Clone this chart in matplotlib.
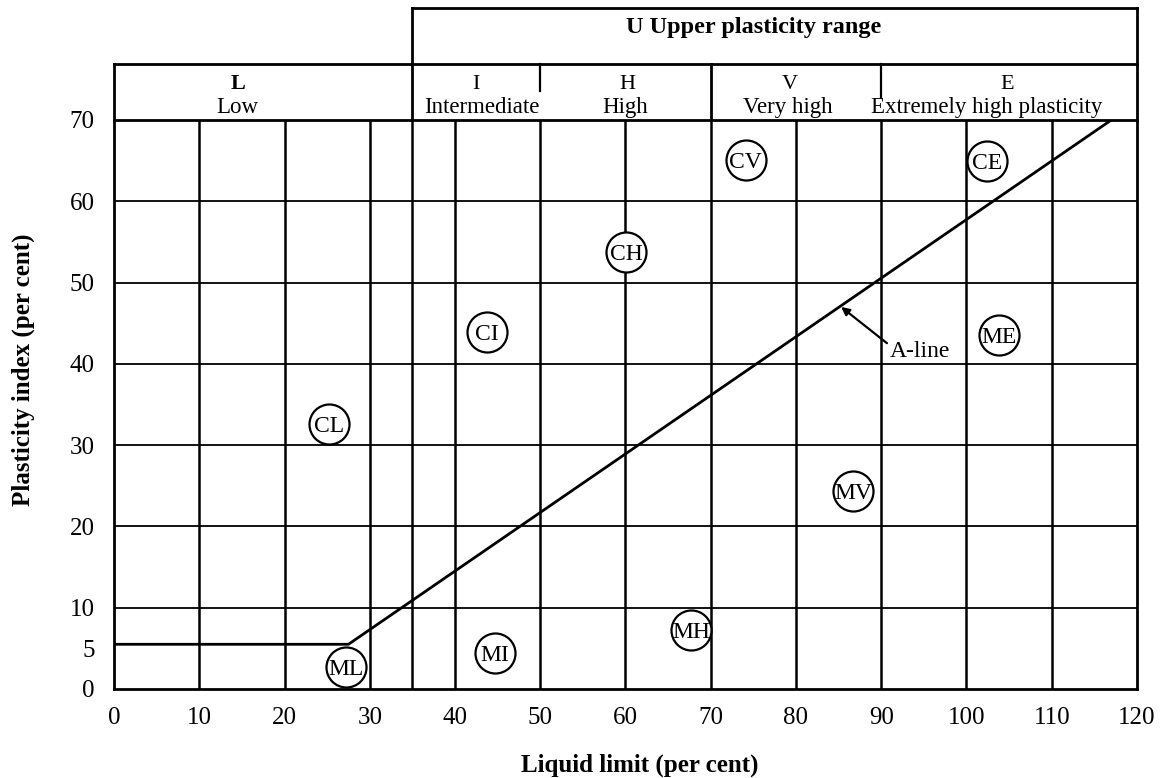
import numpy as np
import matplotlib.pyplot as plt

plt.rcParams['font.family'] = ['Liberation Serif', 'DejaVu Serif']

# plasticity chart: liquid limit vs plasticity index
ll_ticks = [0, 10, 20, 30, 40, 50, 60, 70, 80, 90, 100, 110, 120]
pi_ticks = [0, 5, 10, 20, 30, 40, 50, 60, 70]
ll_grid = [10, 20, 30, 35, 40, 50, 60, 70, 80, 90, 100, 110]
pi_grid = [10, 20, 30, 40, 50, 60]

# A-line (horizontal part then sloping part)
aline_ll = [0, 27.5, 117]
aline_pi = [5.5, 5.5, 70]

symbol_labels = ['CL', 'CI', 'CH', 'CV', 'CE', 'ML', 'MI', 'MH', 'MV', 'ME']
symbol_ll = [25.2, 43.7, 60.1, 74.1, 102.4, 27.2, 44.7, 67.7, 86.7, 103.8]
symbol_pi = [32.6, 43.9, 53.8, 65.1, 64.9, 2.7, 4.4, 7.2, 24.3, 43.5]

# header zones
zone_letters = ['L', 'I', 'H', 'V', 'E']
zone_names = ['Low', 'Intermediate', 'High', 'Very high', 'Extremely high plasticity']
letter_x = [14.5, 42.5, 60.2, 79.3, 104.8]
name_x = [14.5, 43.2, 60.0, 79.0, 102.4]

fig = plt.figure(figsize=(11.65, 7.78), dpi=100)
ax = fig.add_axes([0.0979, 0.1144, 0.878, 0.7314])
ax.set_xlim(0, 120)
ax.set_ylim(0, 70)

for s in ax.spines.values():
    s.set_linewidth(2)

ax.vlines(ll_grid, 0, 70, color='black', lw=1.8, zorder=1)
ax.hlines(pi_grid, 0, 120, color='black', lw=1.3, zorder=1)

ax.plot(aline_ll, aline_pi, color='black', lw=2, zorder=2)

ax.scatter(symbol_ll, symbol_pi, s=830, facecolor='white', edgecolor='black',
           linewidth=1.6, zorder=3)
for lab, x, y in zip(symbol_labels, symbol_ll, symbol_pi):
    ax.text(x, y, lab, ha='center', va='center_baseline', fontsize=17, zorder=4)

ax.annotate('A-line', xy=(85.3, 47.0), xytext=(91.0, 41.8), fontsize=17,
            ha='left', va='center_baseline',
            arrowprops=dict(arrowstyle='-|>', color='black', lw=1.6,
                            mutation_scale=12, shrinkA=0, shrinkB=0,
                            relpos=(0, 0.8)))

ax.set_xticks(ll_ticks)
ax.set_yticks(pi_ticks)
ax.tick_params(length=0, labelsize=18)
ax.tick_params(axis='y', pad=14)
ax.tick_params(axis='x', pad=13)

# header boxes above the plot
row_top = 76.9
u_top = 83.8
hdr = dict(color='black', lw=2, clip_on=False)
ax.plot([0, 0], [70, row_top], **hdr)
ax.plot([0, 120], [row_top, row_top], **hdr)
ax.plot([35, 35], [70, u_top], **hdr)
ax.plot([35, 120], [u_top, u_top], **hdr)
ax.plot([120, 120], [70, u_top], **hdr)
ax.plot([70, 70], [70, row_top], **hdr)
ax.plot([50, 50], [73.6, row_top], color='black', lw=1.6, clip_on=False)
ax.plot([90, 90], [72.8, row_top], color='black', lw=1.6, clip_on=False)

for lt, lx in zip(zone_letters, letter_x):
    ax.text(lx, 73.8, lt, ha='center', va='baseline', fontsize=16,
            fontweight='bold' if lt == 'L' else 'normal')
for nm, nx in zip(zone_names, name_x):
    ax.text(nx, 70.9, nm, ha='center', va='baseline', fontsize=16.5)
ax.text(75.0, 80.7, 'U Upper plasticity range', ha='center', va='baseline',
        fontsize=17.5, fontweight='bold')

fig.text(640 / 1165, 1 - 765 / 778, 'Liquid limit (per cent)', ha='center',
         va='center', fontsize=18, fontweight='bold')
fig.text(23 / 1165, 1 - 370 / 778, 'Plasticity index (per cent)', ha='center',
         va='center', rotation=90, fontsize=18, fontweight='bold')

fig.savefig('out.png', dpi=100)
